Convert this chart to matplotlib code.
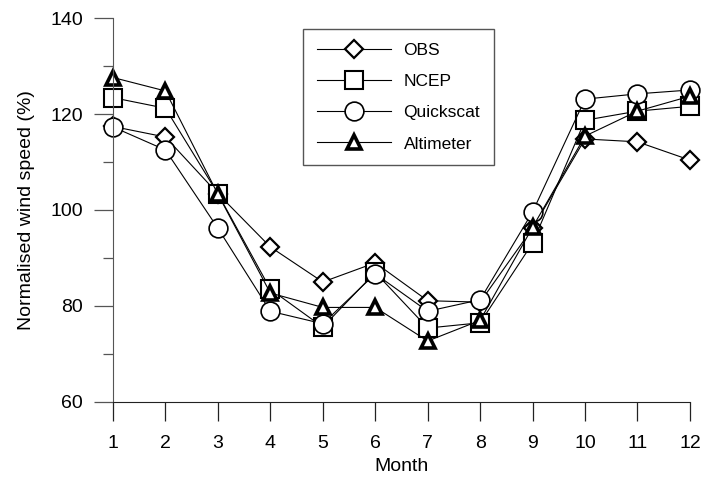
import matplotlib.pyplot as plt
import numpy as np
from matplotlib.ticker import MultipleLocator

plt.rcParams["font.family"] = ["Liberation Sans", "DejaVu Sans"]

months = np.arange(1, 13)
obs = [117.4, 115.2, 103.4, 92.3, 85.0, 89.0, 81.1, 80.8, 96.2, 114.8, 114.2, 110.4]
ncep = [123.4, 121.2, 103.4, 83.5, 75.6, 87.0, 75.4, 76.5, 93.1, 118.7, 120.6, 121.6]
quickscat = [117.3, 112.5, 96.2, 78.9, 76.3, 86.7, 78.9, 81.3, 99.6, 123.1, 124.2, 125.0]
altimeter = [127.6, 124.8, 103.3, 82.7, 79.7, 79.7, 72.7, 77.0, 96.4, 115.4, 120.6, 123.7]

fig = plt.figure(figsize=(7.04, 4.79), dpi=100)
ax = fig.add_axes([0.1605, 0.1608, 0.8195, 0.8016])

lw = 0.8
ax.plot(months, obs, color="black", lw=lw, marker="D", ms=9.6, mfc="white",
        mec="black", mew=1.6, label="OBS", clip_on=False)
ax.plot(months, ncep, color="black", lw=lw, marker="s", ms=12.5, mfc="white",
        mec="black", mew=1.5, label="NCEP", clip_on=False)
ax.plot(months, quickscat, color="black", lw=lw, marker="o", ms=13.5, mfc="white",
        mec="black", mew=1.2, label="Quickscat", clip_on=False)
ax.plot(months, altimeter, color="black", lw=lw, marker="^", ms=10.5, mfc="white",
        mec="black", mew=2.6, label="Altimeter", clip_on=False)

ax.set_xlim(1, 12)
ax.set_ylim(60, 140)
ax.set_xticks(months)
ax.yaxis.set_major_locator(MultipleLocator(20))
ax.yaxis.set_minor_locator(MultipleLocator(10))

for side in ["top", "right"]:
    ax.spines[side].set_visible(False)
ax.spines["left"].set_color("#555555")
ax.spines["bottom"].set_color("#222222")

ax.tick_params(axis="both", which="major", length=14, width=0.9,
               labelsize=14, direction="out")
ax.tick_params(axis="y", which="major", pad=7.5, color="#555555")
ax.tick_params(axis="y", which="minor", length=7, width=0.9, color="#555555")
ax.tick_params(axis="x", which="major", pad=10, color="#222222")

ax.set_xlabel("Month", fontsize=14, labelpad=4)
ax.set_ylabel("Normalised wind speed (%)", fontsize=14, labelpad=11)

leg = ax.legend(loc="upper left", bbox_to_anchor=(0.329, 0.971),
                borderaxespad=0, fontsize=12.5, handlelength=4.3,
                handletextpad=0.7, labelspacing=0.92, borderpad=0.8,
                fancybox=False, framealpha=1, edgecolor="#555555")
leg.get_frame().set_linewidth(1.0)

plt.savefig("out.png", dpi=100)
